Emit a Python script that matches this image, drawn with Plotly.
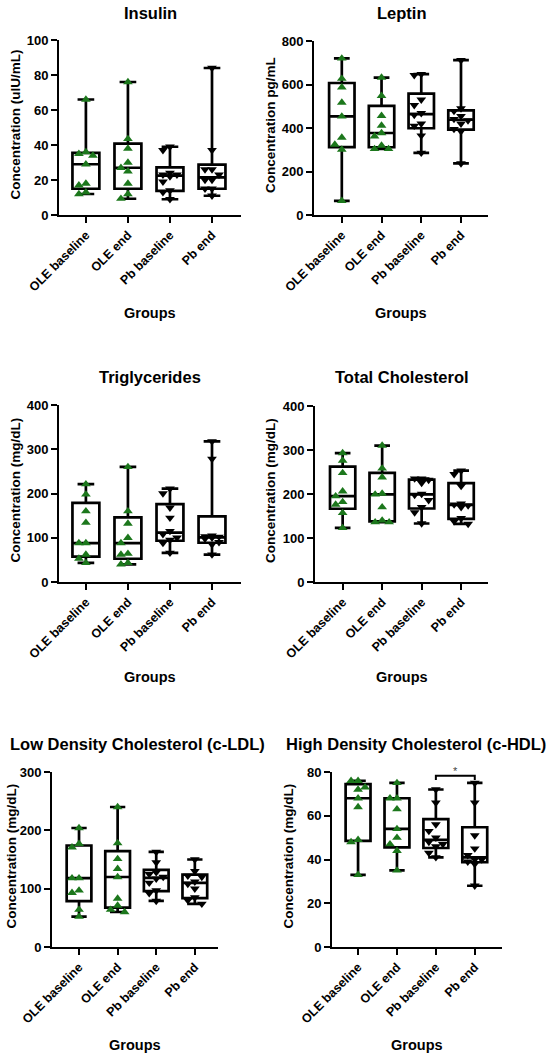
import numpy as np
import plotly.graph_objects as go

# ---------------- data ----------------
groups = ["OLE baseline", "OLE end", "Pb baseline", "Pb end"]

insulin = [
    [66, 34, 35, 36, 29, 17, 18, 12, 13],
    [76, 43.5, 38, 30, 25, 27, 18, 9.3, 12],
    [39, 37, 24, 23, 23, 22, 19, 14, 13, 9],
    [84, 37, 26, 26, 23, 20, 20, 15, 15, 11],
]
leptin = [
    [720, 627, 587, 517, 453, 356, 324, 301, 65],
    [632, 548, 456, 411, 362, 377, 319, 304, 304],
    [648, 643, 530, 505, 468, 460, 420, 410, 365, 286],
    [712, 490, 478, 455, 441, 435, 420, 395, 385, 237],
]
triglycerides = [
    [221, 198, 160, 134, 88, 88, 62, 53, 43],
    [260, 160, 132, 100, 88, 62, 64, 40, 43],
    [211, 200, 168, 145, 115, 108, 100, 95, 88, 66],
    [318, 278, 105, 103, 102, 100, 98, 90, 85, 62],
]
total_chol = [
    [293, 276, 248, 195, 206, 182, 176, 157, 123],
    [310, 258, 238, 201, 199, 170, 136, 140, 136],
    [235, 232, 235, 225, 198, 200, 186, 170, 158, 133],
    [253, 245, 218, 178, 176, 174, 170, 145, 138, 132],
]
ldl = [
    [204, 171, 177, 118, 118, 93, 97, 64, 52],
    [240, 178, 151, 134, 120, 83, 71, 60, 64],
    [163, 145, 128, 125, 120, 117, 110, 97, 92, 79],
    [150, 130, 122, 120, 112, 108, 100, 85, 80, 74],
]
hdl = [
    [76, 76, 72, 73, 68, 64, 48, 49, 33],
    [75, 68, 68, 63, 54, 50, 47, 44, 35],
    [72, 66, 56, 53, 50, 48, 47, 46, 43, 41],
    [75, 66, 51, 45, 42, 40, 40, 39, 38, 28],
]

titles = ["Insulin", "Leptin", "Triglycerides", "Total Cholesterol",
          "Low Density Cholesterol (c-LDL)", "High Density Cholesterol (c-HDL)"]
ytitles = ["Concentration (uIU/mL)", "Concentration pg/mL", "Concentration (mg/dL)",
           "Concentration (mg/dL)", "Concentration (mg/dL)", "Concentration (mg/dL)"]
ymax = [100, 800, 400, 400, 300, 80]
ystep = [20, 200, 100, 100, 100, 20]
datasets = [insulin, leptin, triglycerides, total_chol, ldl, hdl]

# ---------------- layout geometry (pixels) ----------------
W, H = 550, 1058
# (left, right, top, bottom) of each plot area in px
boxes = [
    (59, 241, 40, 215),
    (314, 488, 41, 215),
    (59, 241, 405, 582),
    (315, 488, 406, 582),
    (52, 218, 772, 947),
    (332, 502, 772, 947),
]
xranges = [(-0.64, 3.69), (-0.7, 3.68), (-0.64, 3.69), (-0.7, 3.68), (-0.7, 3.6), (-0.67, 3.7)]
title_y = [13, 13, 377, 377, 744, 744]
title_x = [150, 402, 150, 402, 137, 416]
ytitle_x = [15, 270, 15, 270, 11, 288]
groups_y = [313, 313, 677, 677, 1045, 1045]

GREEN = "#1C771C"
FONT = "Liberation Sans, Arial, sans-serif"


def px2x(p):
    return p / W


def px2y(p):
    return 1 - p / H


def swarm(vals, ppx, ppy, d=7.0, maxoff=0.33):
    vals = np.asarray(vals, float)
    order = np.argsort(-vals, kind="stable")
    step = d / ppx
    cands = [0.0]
    for k in range(1, 8):
        cands += [-k * step, k * step]
    cands = [c for c in cands if abs(c) <= maxoff]
    placed = []
    offs = np.zeros(len(vals))
    for i in order:
        v = vals[i]
        best, bestpen = cands[0], None
        for c in cands:
            pen = 0.0
            for po, pv in placed:
                dist2 = ((c - po) * ppx) ** 2 + ((v - pv) * ppy) ** 2
                if dist2 < d * d:
                    pen += d * d - dist2
            if pen == 0:
                best = c
                bestpen = 0
                break
            if bestpen is None or pen < bestpen:
                best, bestpen = c, pen
        offs[i] = best
        placed.append((best, v))
    return offs


fig = go.Figure()
layout = {}
annotations = []

for p, data in enumerate(datasets):
    n = p + 1
    xa = "x" if n == 1 else f"x{n}"
    ya = "y" if n == 1 else f"y{n}"
    l, r, t, b = boxes[p]
    x0, x1 = xranges[p]
    ppx = (r - l) / (x1 - x0)
    ppy = (b - t) / ymax[p]

    for gi, vals in enumerate(data):
        arr = np.asarray(vals, float)
        q1, med, q3 = np.percentile(arr, [25, 50, 75], method="weibull")
        fig.add_trace(go.Box(
            x=[gi], q1=[q1], median=[med], q3=[q3],
            lowerfence=[arr.min()], upperfence=[arr.max()],
            width=0.64, whiskerwidth=0.62, fillcolor="rgba(255,255,255,0)",
            line=dict(color="black", width=2.7), boxpoints=False,
            showlegend=False, hoverinfo="skip", xaxis=xa, yaxis=ya,
        ))
        offs = swarm(arr, ppx, ppy)
        ole = gi < 2
        fig.add_trace(go.Scatter(
            x=gi + offs, y=arr, mode="markers",
            marker=dict(symbol="triangle-up" if ole else "triangle-down",
                        color=GREEN if ole else "black", size=8.5,
                        line=dict(width=0)),
            cliponaxis=False, showlegend=False, hoverinfo="skip",
            xaxis=xa, yaxis=ya,
        ))

    axis_common = dict(showgrid=False, zeroline=False, showline=True, linewidth=2,
                       linecolor="black", ticks="outside", ticklen=6, tickwidth=2,
                       tickcolor="black", automargin=False, fixedrange=True)
    layout["xaxis" if n == 1 else f"xaxis{n}"] = dict(
        axis_common, domain=[px2x(l), px2x(r)], range=[x0, x1], anchor=ya,
        tickmode="array", tickvals=list(range(len(groups))), ticktext=groups,
        tickangle=-45,
        tickfont=dict(family=FONT, size=12.5, color="black", weight="bold"))
    layout["yaxis" if n == 1 else f"yaxis{n}"] = dict(
        axis_common, domain=[px2y(b), px2y(t)], range=[0, ymax[p]], anchor=xa,
        tickmode="linear", tick0=0, dtick=ystep[p],
        tickfont=dict(family=FONT, size=13, color="black", weight="bold"))

    annotations.append(dict(text=titles[p], x=px2x(title_x[p]), y=px2y(title_y[p]),
                            xref="paper", yref="paper", showarrow=False,
                            xanchor="center", yanchor="middle",
                            font=dict(family=FONT, size=16.5, color="black", weight="bold")))
    annotations.append(dict(text=ytitles[p], x=px2x(ytitle_x[p]), y=px2y((t + b) / 2 - 3),
                            xref="paper", yref="paper", showarrow=False, textangle=-90,
                            xanchor="center", yanchor="middle",
                            font=dict(family=FONT, size=13.5, color="black", weight="bold")))
    annotations.append(dict(text="Groups", x=px2x((l + r) / 2), y=px2y(groups_y[p]),
                            xref="paper", yref="paper", showarrow=False,
                            xanchor="center", yanchor="middle",
                            font=dict(family=FONT, size=14.5, color="black", weight="bold")))

# significance bracket on c-HDL (Pb baseline vs Pb end)
sig_y, sig_leg = 78.3, 76.3
fig.add_shape(type="path", xref="x6", yref="y6",
              path=f"M 2,{sig_leg} L 2,{sig_y} L 3,{sig_y} L 3,{sig_leg}",
              line=dict(color="black", width=2))
annotations.append(dict(text="*", x=2.5, y=sig_y, xref="x6", yref="y6", showarrow=False,
                        yanchor="bottom", yshift=-3,
                        font=dict(family=FONT, size=11, color="#444444")))

fig.update_layout(
    template="none",
    width=W, height=H, margin=dict(l=0, r=0, t=0, b=0, pad=0),
    paper_bgcolor="white", plot_bgcolor="white",
    font=dict(family=FONT, color="black"),
    annotations=annotations, showlegend=False, **layout,
)

fig.write_html("out.html", post_script="document.body.style.margin='0';",
               config={"displayModeBar": False})
